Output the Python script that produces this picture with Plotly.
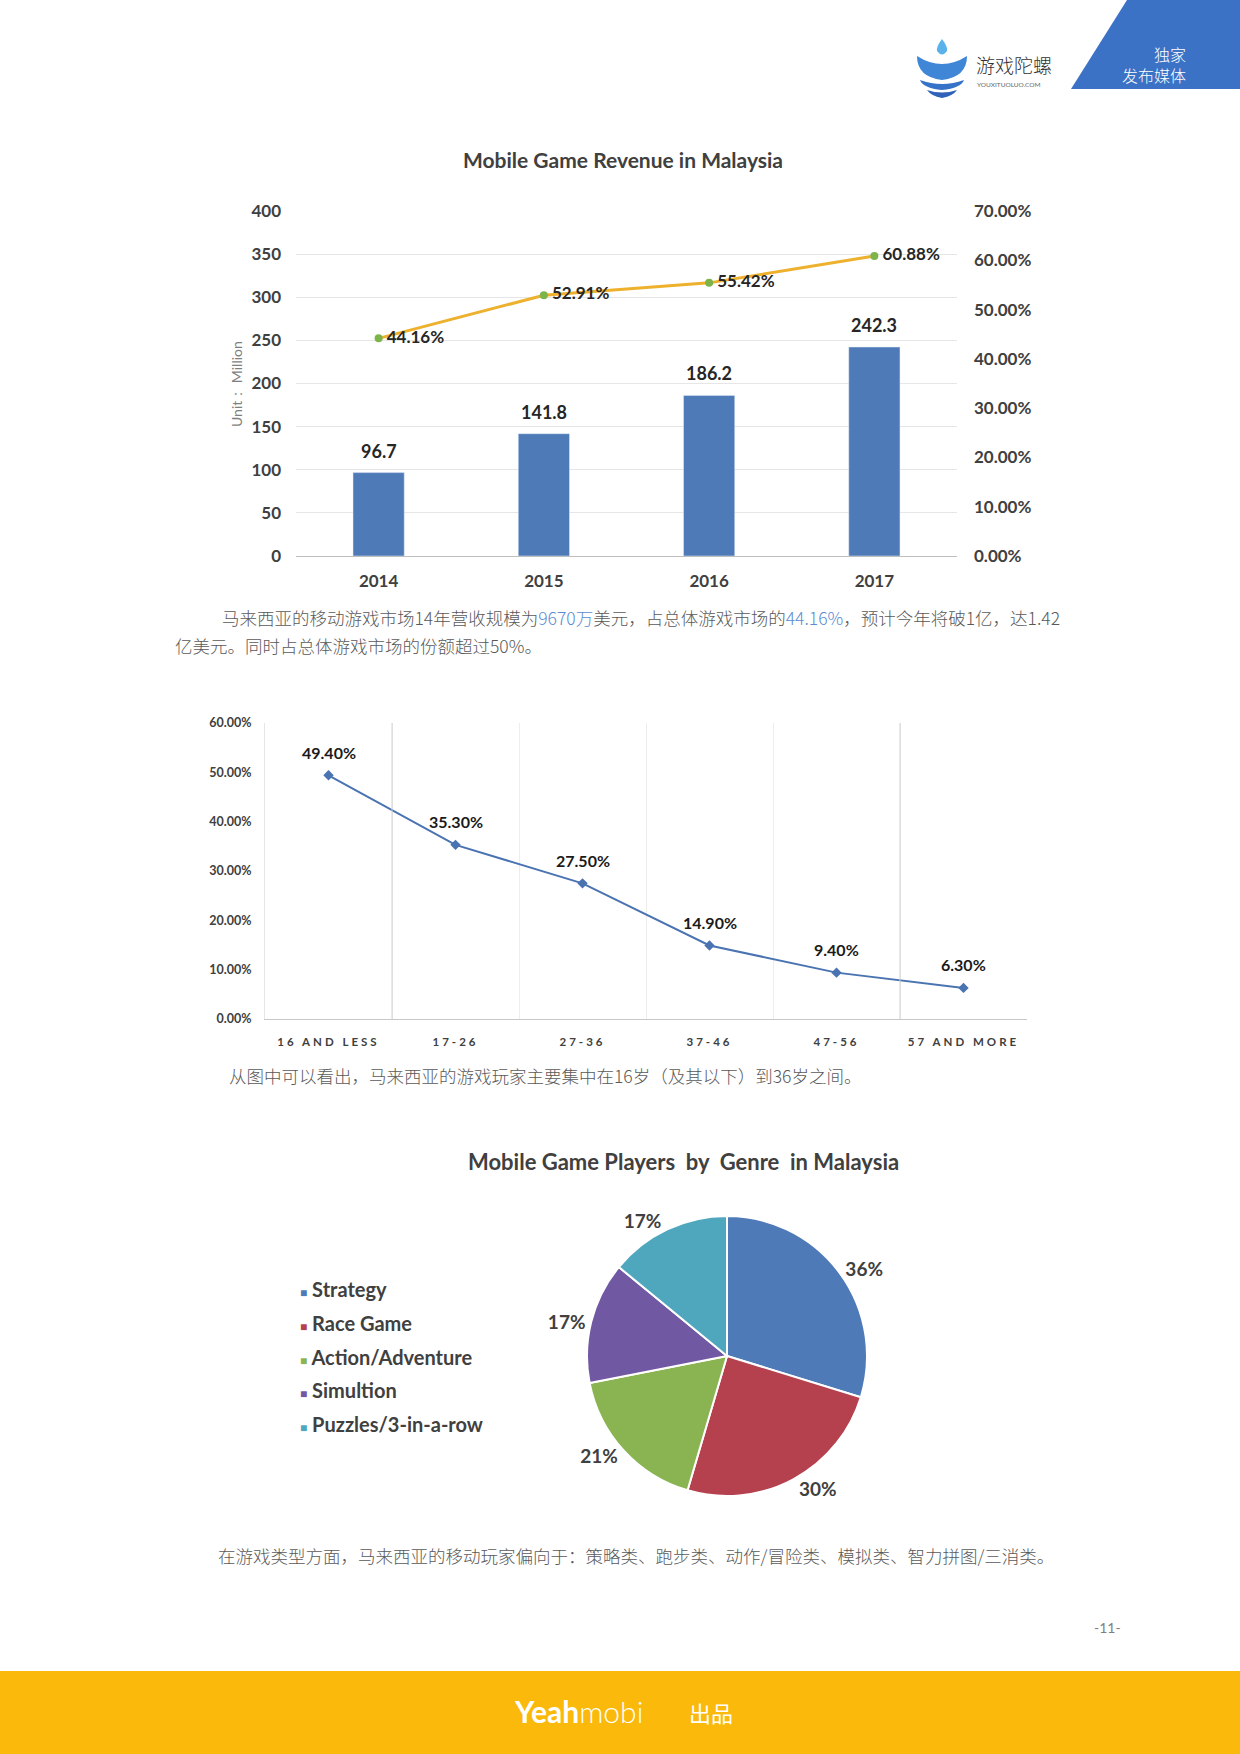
import plotly.graph_objects as go

W, H = 1240, 1754
def px(x): return x / W
def py(y): return 1 - y / H

# ---------------- data ----------------
years = ["2014", "2015", "2016", "2017"]
revenue = [96.7, 141.8, 186.2, 242.3]
share = [0.4416, 0.5291, 0.5542, 0.6088]
share_labels = ["44.16%", "52.91%", "55.42%", "60.88%"]

age_groups = ["16 AND LESS", "17-26", "27-36", "37-46", "47-56", "57 AND MORE"]
age_share = [0.494, 0.353, 0.275, 0.149, 0.094, 0.063]
age_labels = ["49.40%", "35.30%", "27.50%", "14.90%", "9.40%", "6.30%"]

genres = ["Strategy", "Race Game", "Action/Adventure", "Simultion", "Puzzles/3-in-a-row"]
genre_pct = [36, 30, 21, 17, 17]
genre_colors = ["#4F7AB8", "#B6414E", "#8AB452", "#7158A2", "#4FA7BE"]

# ---------------- styles ----------------
LAT = "Lato, 'Open Sans', sans-serif"
CJK = "'Noto Sans CJK SC', sans-serif"
DARK = "#404040"
BAR_BLUE = "#4F7AB8"

fig = go.Figure()

# Chart 1: bars + line
fig.add_trace(go.Bar(x=years, y=revenue, marker_color=BAR_BLUE, width=0.31,
                     xaxis="x", yaxis="y", showlegend=False, hoverinfo="skip"))
fig.add_trace(go.Scatter(x=years, y=share, mode="lines+markers+text",
                         text=["\u2009" + s for s in share_labels], textposition="middle right",
                         textfont=dict(family=LAT, size=17, color="#262626", weight="bold"),
                         line=dict(color="#EDB12E", width=3),
                         marker=dict(color="#7DB44A", size=8),
                         xaxis="x", yaxis="y2", showlegend=False, hoverinfo="skip",
                         cliponaxis=False))

# Chart 2: age line
fig.add_trace(go.Scatter(x=age_groups, y=age_share, mode="lines+markers",
                         line=dict(color="#4A73B1", width=2),
                         marker=dict(color="#4A73B1", size=8, symbol="diamond"),
                         xaxis="x2", yaxis="y3", showlegend=False, hoverinfo="skip",
                         cliponaxis=False))

# Chart 3: pie
fig.add_trace(go.Pie(values=genre_pct, labels=genres, text=[f"{v}%" for v in genre_pct],
                     textinfo="text", textposition="outside", sort=False,
                     direction="clockwise", rotation=0,
                     marker=dict(colors=genre_colors, line=dict(color="white", width=2)),
                     outsidetextfont=dict(family=LAT, size=19, color=DARK, weight="bold"),
                     domain=dict(x=[px(727 - 140), px(727 + 140)], y=[py(1356 + 140), py(1356 - 140)]),
                     showlegend=False, hoverinfo="skip"))

annotations = []
shapes = []

def ann(x, y, text, font, xanchor="center", yanchor="middle", **kw):
    annotations.append(dict(x=px(x), y=py(y), xref="paper", yref="paper", text=text, font=font,
                            xanchor=xanchor, yanchor=yanchor, showarrow=False, **kw))

# bar value labels (category index on the axis)
for i, v in enumerate(revenue):
    annotations.append(dict(x=i, y=v, xref="x", yref="y", text=f"{v}", showarrow=False,
                            xanchor="center", yanchor="middle", yshift=22,
                            font=dict(family=LAT, size=18, color="#262626", weight="bold")))
# age labels
for i, (v, t) in enumerate(zip(age_share, age_labels)):
    annotations.append(dict(x=i, y=v, xref="x2", yref="y3", text=t, showarrow=False,
                            xanchor="center", yanchor="middle", yshift=23,
                            font=dict(family=LAT, size=16, color="#1a1a1a", weight="bold")))

# titles
ann(623, 160, "Mobile Game Revenue in Malaysia", dict(family=LAT, size=21, color=DARK, weight="bold"))
ann(683, 1161, "Mobile Game Players\u00a0\u00a0by\u00a0\u00a0Genre\u00a0\u00a0in Malaysia",
    dict(family=LAT, size=22, color=DARK, weight="bold"))

# pie legend
legend_top, legend_step = 1289, 33.8
for i, (g, c) in enumerate(zip(genres, genre_colors)):
    ann(298, legend_top + i * legend_step, f"<span style='color:{c};font-size:12px'>■</span> {g}",
        dict(family=LAT, size=20, color=DARK, weight="bold"), xanchor="left")

# paragraphs
PCOL = "#595959"
HL = "#5B8BD0"
pfont = dict(family=CJK, size=17.5, color=PCOL, weight=300)
ann(220, 617, ("马来西亚的移动游戏市场14年营收规模为"
               f"<span style='color:{HL}'>9670万</span>美元，占总体游戏市场的"
               f"<span style='color:{HL}'>44.16%</span>，预计今年将破1亿，达1.42"), pfont, xanchor="left")
ann(173, 645, "亿美元。同时占总体游戏市场的份额超过50%。", pfont, xanchor="left")
ann(227, 1075, "从图中可以看出，马来西亚的游戏玩家主要集中在16岁（及其以下）到36岁之间。", pfont, xanchor="left")
ann(216, 1555, "在游戏类型方面，马来西亚的移动玩家偏向于：策略类、跑步类、动作/冒险类、模拟类、智力拼图/三消类。",
    pfont, xanchor="left")

# y-axis title chart 1
ann(236, 384, "Unit：\u00a0Million", dict(family=LAT, size=14, color="#7f7f7f"), textangle=-90)

# header
shapes.append(dict(type="path", xref="paper", yref="paper", line=dict(width=0), fillcolor="#3B72C6",
                   path=f"M {px(1071)},{py(89)} L {px(1127)},{py(0)} L 1,{py(0)} L 1,{py(89)} Z", layer="below"))
ann(1188, 65, "独家<br>发布媒体", dict(family=CJK, size=16, color="white", weight=300),
    xanchor="right", align="right")

def path(points):
    s = ""
    for cmd, pts in points:
        s += cmd + " " + " ".join(f"{px(a)},{py(b)}" for a, b in pts) + " "
    return s + "Z"

# logo icon
shapes.append(dict(type="path", xref="paper", yref="paper", line=dict(width=0), fillcolor="#5AB2EA",
                   path=path([("M", [(942, 39)]), ("Q", [(948, 47), (947, 51)]), ("Q", [(942, 58), (937, 51)]),
                              ("Q", [(936, 47), (942, 39)])])))
shapes.append(dict(type="path", xref="paper", yref="paper", line=dict(width=0), fillcolor="#3F86D6",
                   path=path([("M", [(917, 56)]), ("Q", [(942, 72), (967, 56)]), ("Q", [(967, 77), (942, 80)]),
                              ("Q", [(917, 77), (917, 56)])])))
shapes.append(dict(type="path", xref="paper", yref="paper", line=dict(width=0), fillcolor="#3672C8",
                   path=path([("M", [(920, 80)]), ("Q", [(942, 88), (964, 80)]), ("Q", [(961, 88), (942, 90)]),
                              ("Q", [(923, 88), (920, 80)])])))
shapes.append(dict(type="path", xref="paper", yref="paper", line=dict(width=0), fillcolor="#2F62B8",
                   path=path([("M", [(927, 90)]), ("Q", [(942, 95), (957, 90)]), ("Q", [(953, 96), (942, 98)]),
                              ("Q", [(931, 96), (927, 90)])])))
ann(974, 65, "游戏陀螺", dict(family=CJK, size=19, color="#333333", weight=300), xanchor="left")
ann(975, 85, "YOUXITUOLUO.COM", dict(family=LAT, size=6.5, color="#666666"), xanchor="left")

# chart 2: slightly darker separators seen in the reference
for b in [0.5, 4.5]:
    shapes.append(dict(type="line", xref="x2", yref="y3 domain", x0=b, x1=b, y0=0, y1=1,
                       line=dict(color="#D2D2D2", width=1)))

# footer
shapes.append(dict(type="rect", xref="paper", yref="paper", x0=0, x1=1, y0=0, y1=py(1671),
                   fillcolor="#FAB90B", line=dict(width=0), layer="below"))
ann(578, 1711, "<b>Yeah</b><span style='font-weight:300'>mobi</span>",
    dict(family=LAT, size=30, color="white"))
ann(711, 1712, "出品", dict(family=CJK, size=22, color="white"))
ann(1107, 1627, "-11-", dict(family=LAT, size=14, color="#808080"))

tick1 = dict(family=LAT, size=17, color=DARK, weight="bold")
tick2 = dict(family=LAT, size=12.5, color=DARK, weight="bold")

fig.update_layout(
    width=W, height=H, margin=dict(l=0, r=0, t=0, b=0, autoexpand=False),
    paper_bgcolor="white", plot_bgcolor="rgba(0,0,0,0)",
    showlegend=False,
    xaxis=dict(domain=[px(296), px(957)], anchor="y", type="category", range=[-0.5, 3.5],
               showgrid=False, showline=True, linecolor="#BFBFBF", linewidth=1, ticks="",
               tickfont=tick1, ticklabelstandoff=10, automargin=False),
    yaxis=dict(domain=[py(556), py(211)], anchor="x", range=[0, 400], dtick=50,
               showgrid=True, gridcolor="#E6E6E6", zeroline=False, tickfont=tick1,
               ticklabelstandoff=14, showline=False, automargin=False),
    yaxis2=dict(overlaying="y", side="right", anchor="x", range=[0, 0.7], dtick=0.1,
                tickformat=".2%", showgrid=False, zeroline=False, tickfont=tick1,
                ticklabelstandoff=16, automargin=False),
    xaxis2=dict(domain=[px(265), px(1027)], anchor="y3", type="category", tickson="boundaries",
                range=[-0.5, 5.5],
                showgrid=True, gridcolor="#EDEDED", showline=True, linecolor="#C8C8C8",
                ticks="", tickvals=age_groups,
                ticktext=[f"<span style='letter-spacing:3px'>{g}</span>" for g in age_groups],
                tickfont=dict(family=LAT, size=11.5, color=DARK, weight="bold"),
                ticklabelstandoff=12, automargin=False),
    yaxis3=dict(domain=[py(1019), py(723)], anchor="x2", range=[0, 0.6], dtick=0.1,
                tickformat=".2%", showgrid=False, zeroline=False, tickfont=tick2,
                showline=True, linecolor="#E6E6E6",
                ticklabelstandoff=10, automargin=False),
    annotations=annotations,
    shapes=shapes,
)

fig.write_html("out.html", config={"displayModeBar": False},
               post_script="document.body.style.margin='0';document.body.style.overflow='hidden';")
